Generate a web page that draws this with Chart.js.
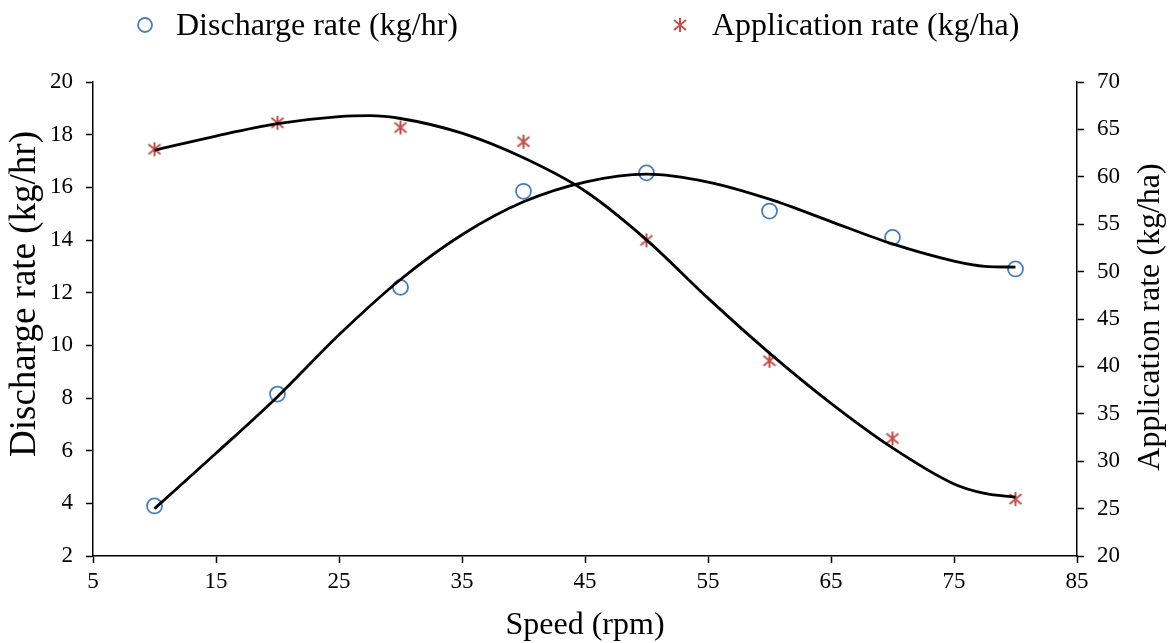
<!DOCTYPE html>
<html>
<head>
<meta charset="utf-8">
<script src="https://cdn.jsdelivr.net/npm/chart.js@4.4.0/dist/chart.umd.min.js"></script>
<style>
  html, body { margin: 0; padding: 0; background: #fff; }
  #wrap { width: 1175px; height: 643px; }
</style>
</head>
<body>
<div id="wrap"><canvas id="chart"></canvas></div>
<script>
// measured points
const speed = [10, 20, 30, 40, 50, 60, 70, 80];
const dischargeRate = [3.9, 8.15, 12.2, 15.85, 16.55, 15.1, 14.1, 12.9];
const applicationRate = [62.9, 65.7, 65.2, 63.7, 53.3, 40.6, 32.4, 26.0];

// trend lines
const dischargeTrendX = [10, 15, 20, 25, 30, 35, 40, 45, 50, 55, 60, 65, 70, 75, 77.5, 80];
const dischargeTrend = [3.8, 5.9, 8.05, 10.4, 12.5, 14.2, 15.45, 16.2, 16.5, 16.2, 15.55, 14.7, 13.85, 13.2, 13.0, 12.97];
const applicationTrendX = [10, 15, 20, 25, 27.5, 30, 35, 40, 45, 50, 55, 60, 65, 70, 75, 77.5, 80];
const applicationTrend = [62.8, 64.3, 65.6, 66.35, 66.45, 66.15, 64.6, 62.0, 58.5, 53.35, 47.2, 41.4, 36.1, 31.4, 27.6, 26.6, 26.2];

const xTicks = [5, 15, 25, 35, 45, 55, 65, 75, 85];
const leftTitle = 'Discharge rate (kg/hr)';
const rightTitle = 'Application rate (kg/ha)';

const FONT = '"Liberation Serif", "Times New Roman", serif';
const BLUE = '#4a7ebb';
const RED = '#c0504d';

// asterisk marker (x + vertical bar)
const star = document.createElement('canvas');
star.width = 18; star.height = 18;
const sc = star.getContext('2d');
sc.strokeStyle = RED;
sc.lineWidth = 2;
sc.beginPath();
sc.moveTo(9, 2); sc.lineTo(9, 16);
sc.moveTo(3, 4); sc.lineTo(15, 14);
sc.moveTo(15, 4); sc.lineTo(3, 14);
sc.stroke();

const pts = (xs, ys) => xs.map((x, i) => ({ x: x, y: ys[i] }));

// legend on top and the two rotated axis titles, drawn by hand
const extras = {
  id: 'extras',
  afterDraw(chart) {
    const ctx = chart.ctx;
    const ds = chart.data.datasets;
    ctx.save();
    ctx.fillStyle = '#000';
    ctx.textBaseline = 'middle';
    ctx.font = '32px ' + FONT;
    ctx.strokeStyle = BLUE;
    ctx.lineWidth = 1.8;
    ctx.beginPath();
    ctx.arc(145, 25, 7, 0, Math.PI * 2);
    ctx.stroke();
    ctx.fillText(ds[2].label, 176, 27);
    ctx.drawImage(star, 671, 16);
    ctx.fillText(ds[3].label, 712, 27);

    // both y titles read bottom to top
    ctx.textAlign = 'center';
    ctx.save();
    ctx.translate(25, 294);
    ctx.rotate(-Math.PI / 2);
    ctx.font = '37px ' + FONT;
    ctx.fillText(leftTitle, 0, 0);
    ctx.restore();
    ctx.save();
    ctx.translate(1151, 317);
    ctx.rotate(-Math.PI / 2);
    ctx.font = '32px ' + FONT;
    ctx.fillText(rightTitle, 0, 0);
    ctx.restore();
    ctx.restore();
  }
};

const tickFont = { family: FONT, size: 23 };
const titleFont = { family: FONT, size: 32, lineHeight: 1 };

new Chart(document.getElementById('chart'), {
  type: 'scatter',
  data: {
    datasets: [
      { label: 'trend discharge', data: pts(dischargeTrendX, dischargeTrend), yAxisID: 'y',
        showLine: true, borderColor: '#000', borderWidth: 2.8, pointRadius: 0,
        cubicInterpolationMode: 'monotone', order: 0 },
      { label: 'trend application', data: pts(applicationTrendX, applicationTrend), yAxisID: 'y2',
        showLine: true, borderColor: '#000', borderWidth: 2.8, pointRadius: 0,
        cubicInterpolationMode: 'monotone', order: 0 },
      { label: 'Discharge rate (kg/hr)', data: pts(speed, dischargeRate), yAxisID: 'y',
        pointStyle: 'circle', pointRadius: 7.5, borderColor: BLUE, borderWidth: 1.8,
        backgroundColor: 'rgba(0,0,0,0)', order: 1 },
      { label: 'Application rate (kg/ha)', data: pts(speed, applicationRate), yAxisID: 'y2',
        pointStyle: star, pointRadius: 9, order: 1 }
    ]
  },
  options: {
    responsive: true,
    maintainAspectRatio: false,
    animation: false,
    layout: { padding: { top: 82, right: 0, bottom: 0, left: 0 } },
    plugins: { legend: { display: false }, tooltip: { enabled: false } },
    scales: {
      x: {
        type: 'linear', min: 5, max: 85,
        afterBuildTicks: s => { s.ticks = xTicks.map(v => ({ value: v })); },
        afterFit: s => { s.height = 87; },
        grid: { drawOnChartArea: false, color: '#000', tickLength: 7, tickWidth: 1.5 },
        border: { color: '#000', width: 1.5 },
        ticks: { font: tickFont, color: '#000', padding: 5, maxRotation: 0, autoSkip: false },
        title: { display: true, text: 'Speed (rpm)', font: titleFont, color: '#000', padding: { top: 0, bottom: 1 } }
      },
      y: {
        position: 'left', min: 2, max: 20,
        afterFit: s => { s.width = 93; },
        grid: { drawOnChartArea: false, color: '#000', tickLength: 7, tickWidth: 1.5 },
        border: { color: '#000', width: 1.5 },
        ticks: { stepSize: 2, font: tickFont, color: '#000', padding: 13 }
      },
      y2: {
        position: 'right', min: 20, max: 70,
        afterFit: s => { s.width = 98; },
        grid: { drawOnChartArea: false, color: '#000', tickLength: 7, tickWidth: 1.5 },
        border: { color: '#000', width: 1.5 },
        ticks: { stepSize: 5, font: tickFont, color: '#000', padding: 13 }
      }
    }
  },
  plugins: [extras]
});
</script>
</body>
</html>
